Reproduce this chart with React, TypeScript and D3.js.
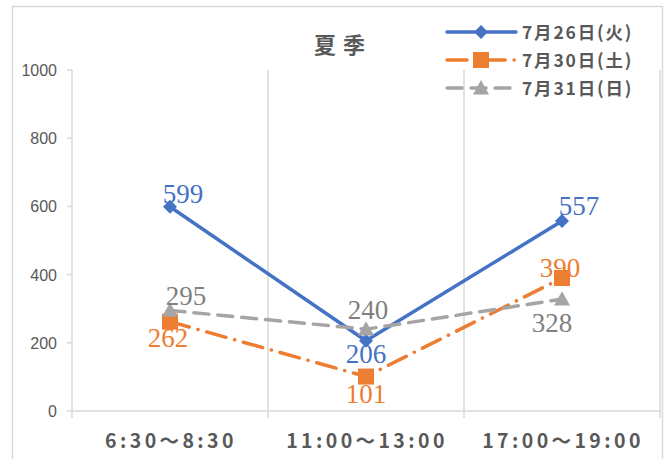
import React from "react";
import * as d3 from "d3";

const categories = ["6:30～8:30", "11:00～13:00", "17:00～19:00"];
const seriesNames = ["7月26日(火)", "7月30日(土)", "7月31日(日)"];
const valuesJul26 = [599, 206, 557];
const valuesJul30 = [262, 101, 390];
const valuesJul31 = [295, 240, 328];
const yTicks = [0, 200, 400, 600, 800, 1000];
const title = "夏季";

const W = 667;
const H = 459;
const plot = { left: 72, right: 660, top: 70, bottom: 411 };

const colors = ["#4472C4", "#ED7D31", "#A5A5A5"];
const dashes = ["none", "20 9 0.1 9", "15 9"];
const labelOffsets = [
  [[13, -4], [0, 22], [17, -6]],
  [[-2, 25], [0, 26], [-2, -1]],
  [[16, -5], [2, -10], [-10, 33]],
];

function Marker({ kind, x, y, color }: { kind: number; x: number; y: number; color: string }) {
  if (kind === 0) {
    const s = 7;
    return <path d={`M${x},${y - s}L${x + s},${y}L${x},${y + s}L${x - s},${y}Z`} fill={color} />;
  }
  if (kind === 1) {
    const s = 8;
    return <rect x={x - s} y={y - s} width={2 * s} height={2 * s} fill={color} />;
  }
  const s = 8;
  return <path d={`M${x},${y - s}L${x + s},${y + s * 0.8}L${x - s},${y + s * 0.8}Z`} fill={color} />;
}

export default function App() {
  const x = d3.scaleBand<string>().domain(categories).range([plot.left, plot.right]).padding(0);
  const y = d3.scaleLinear().domain([0, 1000]).range([plot.bottom, plot.top]);
  const series = [valuesJul26, valuesJul30, valuesJul31];
  const line = d3
    .line<number>()
    .x((_, i) => (x(categories[i]) as number) + x.bandwidth() / 2)
    .y((v) => y(v));
  const bounds = [plot.left, ...categories.map((c) => (x(c) as number) + x.bandwidth())];
  const gridColor = "#D9D9D9";
  const textColor = "#595959";
  const sans = "'Noto Sans CJK JP', 'Noto Sans', sans-serif";

  return (
    <svg width={W} height={H} style={{ position: "absolute", left: 0, top: 0 }}>
      <rect x={0} y={0} width={W} height={H} fill="#fff" />
      <rect x={12.5} y={6.5} width={650} height={470} fill="none" stroke={gridColor} strokeWidth={1.5} />
      {bounds.map((b, i) => (
        <line key={i} x1={b} x2={b} y1={plot.top} y2={plot.bottom + 7} stroke={gridColor} strokeWidth={1.5} />
      ))}
      <line x1={plot.left} x2={plot.right} y1={plot.bottom} y2={plot.bottom} stroke={gridColor} strokeWidth={1.5} />
      {yTicks.map((t) => (
        <g key={t}>
          <line x1={plot.left - 5} x2={plot.left} y1={y(t)} y2={y(t)} stroke={gridColor} strokeWidth={1.5} />
          <text x={57} y={y(t) + 6} textAnchor="end" fontSize={16} fill={textColor} fontFamily="'Liberation Sans', Arial, sans-serif">
            {t}
          </text>
        </g>
      ))}
      {categories.map((c) => (
        <text
          key={c}
          x={(x(c) as number) + x.bandwidth() / 2 + 1}
          y={448}
          textAnchor="middle"
          fontSize={19.5}
          fontWeight="bold"
          letterSpacing={3.4}
          fill={textColor}
          fontFamily={sans}
        >
          {c}
        </text>
      ))}
      <text x={343} y={53} textAnchor="middle" fontSize={22} fontWeight="bold" letterSpacing={7} fill={textColor} fontFamily={sans}>
        {title}
      </text>
      {series.map((vals, si) => (
        <path
          key={si}
          d={line(vals) as string}
          fill="none"
          stroke={colors[si]}
          strokeWidth={3.5}
          strokeDasharray={dashes[si]}
          strokeLinecap="round"
          strokeLinejoin="round"
        />
      ))}
      {series.map((vals, si) =>
        vals.map((v, i) => (
          <Marker key={`${si}-${i}`} kind={si} x={(x(categories[i]) as number) + x.bandwidth() / 2} y={y(v)} color={colors[si]} />
        ))
      )}
      {series.map((vals, si) =>
        vals.map((v, i) => (
          <text
            key={`l${si}-${i}`}
            x={(x(categories[i]) as number) + x.bandwidth() / 2 + labelOffsets[si][i][0]}
            y={y(v) + labelOffsets[si][i][1]}
            textAnchor="middle"
            fontSize={27}
            fill={colors[si] === "#A5A5A5" ? "#808080" : colors[si]}
            fontFamily="'Liberation Serif', 'Times New Roman', serif"
          >
            {v}
          </text>
        ))
      )}
      {seriesNames.map((n, si) => {
        const ly = 32 + si * 28;
        return (
          <g key={n}>
            <line
              x1={447}
              x2={516}
              y1={ly}
              y2={ly}
              stroke={colors[si]}
              strokeWidth={3.5}
              strokeDasharray={dashes[si]}
              strokeLinecap="round"
            />
            <Marker kind={si} x={481} y={ly} color={colors[si]} />
            <text x={522} y={ly + 7} fontSize={17.5} fontWeight="bold" letterSpacing={1.8} fill={textColor} fontFamily={sans}>
              {n}
            </text>
          </g>
        );
      })}
    </svg>
  );
}
